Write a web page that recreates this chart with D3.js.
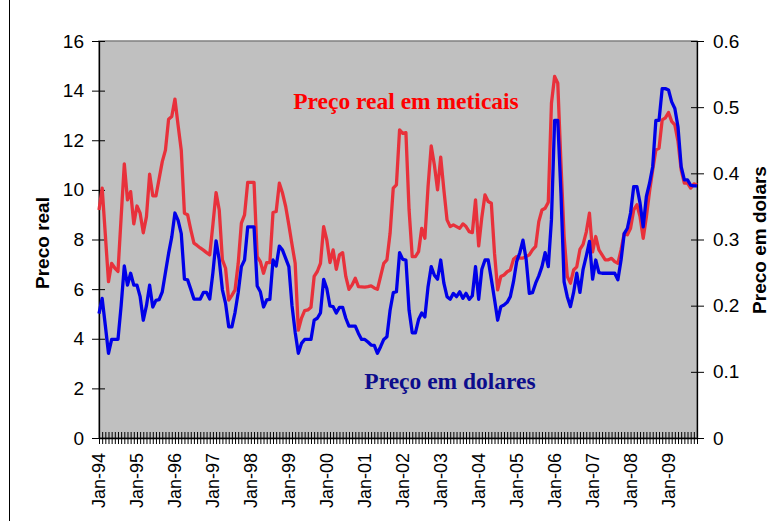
<!DOCTYPE html>
<html>
<head>
<meta charset="utf-8">
<script src="https://cdn.jsdelivr.net/npm/d3@7"></script>
<style>
body { margin: 0; background: #fff; }
svg { display: block; }
</style>
</head>
<body>
<div id="chart"></div>
<script>
// monthly values, Jan-94 .. Oct-09
var precoReal = [
    9.19, 10.07, 8.2, 6.3, 7.04, 6.85, 6.71, 8.9, 11.05, 9.6, 9.93, 8.63,
    9.35, 9.06, 8.27, 8.92, 10.63, 9.76, 9.76, 10.45, 11.14, 11.6, 12.85, 12.96,
    13.66, 12.6, 11.6, 9.06, 9.0, 8.4, 7.85, 7.76, 7.66, 7.57, 7.47, 7.38,
    8.6, 9.89, 9.19, 7.18, 6.84, 5.56, 5.75, 5.97, 7.04, 8.66, 8.99, 10.3,
    10.3, 10.3, 7.31, 7.11, 6.64, 7.07, 7.07, 9.09, 9.13, 10.27, 9.87, 9.33,
    8.59, 7.8, 7.04, 4.35, 4.83, 5.13, 5.16, 5.27, 6.51, 6.71, 7.04, 8.52,
    7.98, 7.07, 7.58, 6.8, 7.38, 7.47, 6.51, 5.99, 6.17, 6.44, 6.10, 6.09,
    6.08, 6.1, 6.13, 6.05, 5.99, 6.51, 7.04, 7.18, 8.25, 10.07, 10.2, 12.42,
    12.28, 12.31, 9.19, 7.31, 7.31, 7.51, 8.45, 8.05, 10.13, 11.77, 11.0, 10.0,
    11.32, 10.0, 8.79, 8.52, 8.59, 8.52, 8.45, 8.63, 8.52, 8.32, 8.28, 9.6,
    7.74, 8.9, 9.8, 9.53, 9.46, 7.45, 5.97, 6.51, 6.57, 6.7, 6.77, 7.2,
    7.31, 7.25, 7.25, 7.31, 7.38, 7.58, 7.72, 8.72, 9.19, 9.26, 9.5, 13.49,
    14.57, 14.3, 11.08, 8.12, 6.51, 6.24, 6.77, 6.9, 7.6, 7.8, 8.3, 9.06,
    7.5, 8.12, 7.58, 7.38, 7.18, 7.18, 7.24, 7.11, 7.04, 7.58, 8.25, 8.19,
    8.45, 9.19, 9.4, 8.92, 8.05, 8.92, 9.93, 10.81, 11.61, 11.68, 12.82, 12.9,
    13.12, 12.76, 12.62, 11.95, 10.81, 10.27, 10.27, 10.07, 10.24, 10.2
];

var precoDolares = [
    .188, .211, .17, .128, .149, .149, .149, .20, .26, .231, .249, .231,
    .231, .2136, .178, .2, .231, .198, .208, .209, .221, .25, .279, .304,
    .34, .329, .309, .24, .239, .225, .21, .21, .21, .22, .22, .21,
    .25, .298, .269, .224, .2035, .168, .168, .19, .22, .259, .269, .319,
    .319, .319, .2297, .221, .198, .2086, .2096, .269, .26, .29, .284, .2715,
    .259, .2, .16, .128, .143, .149, .149, .149, .178, .181, .189, .2398,
    .226, .1995, .1985, .189, .1975, .1975, .181, .169, .169, .169, .158, .149,
    .149, .145, .1405, .14, .128, .138, .149, .153, .193, .2196, .221, .28,
    .27, .269, .193, .159, .159, .179, .189, .183, .2287, .259, .246, .24,
    .269, .234, .2136, .2096, .2186, .2136, .221, .211, .2186, .2096, .215, .259,
    .2096, .255, .269, .269, .24, .2096, .178, .1985, .201, .205, .2136, .2362,
    .2665, .28, .299, .27, .2186, .2196, .234, .245, .259, .28, .259, .33,
    .48, .48, .37, .236, .2136, .1985, .22, .249, .22, .255, .275, .297,
    .24, .269, .25, .249, .249, .249, .249, .249, .239, .269, .309, .317,
    .34, .38, .38, .355, .319, .365, .385, .41, .48, .48, .528, .528,
    .526, .508, .498, .47, .41, .39, .39, .382, .381, .381
];

var janLabels = ["Jan-94", "Jan-95", "Jan-96", "Jan-97", "Jan-98", "Jan-99", "Jan-00", "Jan-01",
    "Jan-02", "Jan-03", "Jan-04", "Jan-05", "Jan-06", "Jan-07", "Jan-08", "Jan-09"];
var leftTicks = [0, 2, 4, 6, 8, 10, 12, 14, 16];
var rightTicks = [0, 0.1, 0.2, 0.3, 0.4, 0.5, 0.6];

var width = 781, height = 521;
var plot = { left: 99, right: 697, top: 41, bottom: 438 };

var svg = d3.select("#chart")
    .append("svg")
    .attr("width", width)
    .attr("height", height);

// frame line at the left edge of the chart area
svg.append("line")
    .attr("x1", 9.5).attr("x2", 9.5)
    .attr("y1", 0).attr("y2", height)
    .attr("stroke", "#000").attr("stroke-width", 1);

var months = d3.range(precoReal.length);

var x = d3.scalePoint()
    .domain(months)
    .range([plot.left, plot.right]);

var yLeft = d3.scaleLinear().domain([0, 16]).range([plot.bottom, plot.top]);
var yRight = d3.scaleLinear().domain([0, 0.6]).range([plot.bottom, plot.top]);

// grey plot area
svg.append("rect")
    .attr("x", plot.left)
    .attr("y", plot.top)
    .attr("width", plot.right - plot.left)
    .attr("height", plot.bottom - plot.top)
    .attr("fill", "#c0c0c0")
    .attr("stroke", "#808080")
    .attr("stroke-width", 1.5);

var tickFont = "'Liberation Sans', Arial, sans-serif";

// left axis
var gl = svg.append("g")
    .attr("transform", "translate(" + plot.left + ",0)")
    .call(d3.axisLeft(yLeft).tickValues(leftTicks).tickSizeInner(7).tickSizeOuter(0).tickPadding(8));
gl.selectAll(".tick line").attr("x1", 6);
gl.selectAll("text").style("font-family", tickFont).style("font-size", "19px").attr("fill", "#000");

// right axis
var gr = svg.append("g")
    .attr("transform", "translate(" + plot.right + ",0)")
    .call(d3.axisRight(yRight).tickValues(rightTicks).tickSizeInner(7).tickSizeOuter(0).tickPadding(9)
        .tickFormat(function (d) { return d === 0 ? "0" : d3.format(".1f")(d); }));
gr.selectAll(".tick line").attr("x1", -6);
gr.selectAll("text").style("font-family", tickFont).style("font-size", "19px").attr("fill", "#000");

// bottom axis, one tick per month
var gx = svg.append("g")
    .attr("transform", "translate(0," + plot.bottom + ")")
    .call(d3.axisBottom(x).tickValues(months).tickSizeInner(6).tickSizeOuter(0).tickFormat(""));
gx.selectAll(".tick line").attr("y1", -6);

gx.selectAll(".jan")
    .data(janLabels)
    .enter()
    .append("text")
    .attr("class", "jan")
    .attr("transform", function (d, i) {
        return "translate(" + x(i * 12) + ",15) rotate(-90)";
    })
    .attr("dy", "0.35em")
    .attr("text-anchor", "end")
    .style("font-family", tickFont)
    .style("font-size", "18px")
    .attr("fill", "#000")
    .text(function (d) { return d; });

svg.selectAll(".domain").attr("stroke", "#000").attr("stroke-width", 1.3);

// lines
var lineReal = d3.line()
    .x(function (d, i) { return x(i); })
    .y(function (d) { return yLeft(d); });

var lineDolar = d3.line()
    .x(function (d, i) { return x(i); })
    .y(function (d) { return yRight(d); });

svg.append("path")
    .datum(precoReal)
    .attr("d", lineReal)
    .attr("fill", "none")
    .attr("stroke", "#e8313b")
    .attr("stroke-width", 3.3)
    .attr("stroke-linejoin", "round");

svg.append("path")
    .datum(precoDolares)
    .attr("d", lineDolar)
    .attr("fill", "none")
    .attr("stroke", "#0000e8")
    .attr("stroke-width", 3.3)
    .attr("stroke-linejoin", "round");

// series labels
var serif = "'Liberation Serif', 'Times New Roman', serif";
svg.append("text")
    .attr("x", 406).attr("y", 109)
    .attr("text-anchor", "middle")
    .style("font-family", serif)
    .style("font-weight", "bold")
    .style("font-size", "23.5px")
    .attr("fill", "#ff0000")
    .text("Preço real em meticais");

svg.append("text")
    .attr("x", 450).attr("y", 389)
    .attr("text-anchor", "middle")
    .style("font-family", serif)
    .style("font-weight", "bold")
    .style("font-size", "23.5px")
    .attr("fill", "#0d0d8c")
    .text("Preço em dolares");

// axis titles
svg.append("text")
    .attr("transform", "translate(42,243) rotate(-90)")
    .attr("dy", "0.35em")
    .attr("text-anchor", "middle")
    .style("font-family", tickFont)
    .style("font-weight", "bold")
    .style("font-size", "19px")
    .text("Preco real");

svg.append("text")
    .attr("transform", "translate(759,240) rotate(-90)")
    .attr("dy", "0.35em")
    .attr("text-anchor", "middle")
    .style("font-family", tickFont)
    .style("font-weight", "bold")
    .style("font-size", "19px")
    .text("Preco em dolars");
</script>
</body>
</html>
